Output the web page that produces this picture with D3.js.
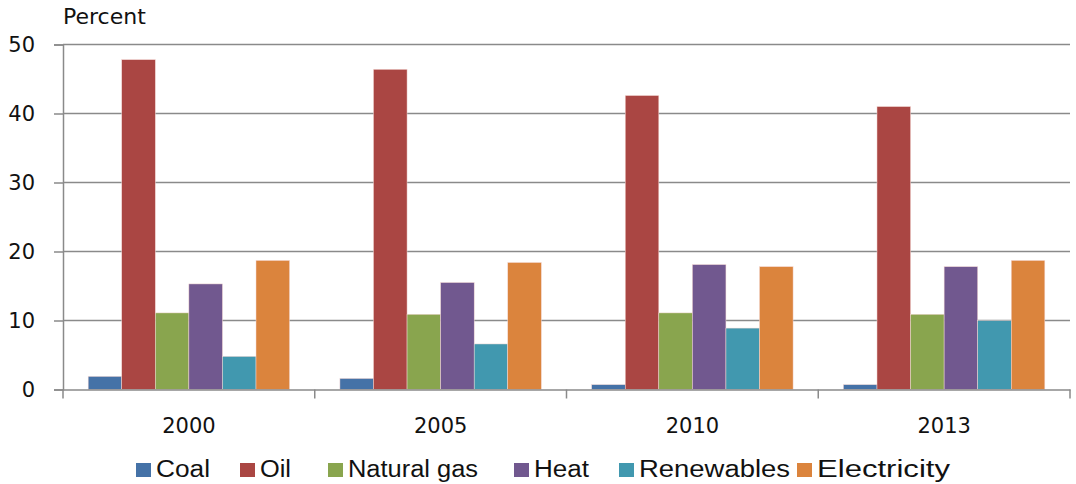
<!DOCTYPE html>
<html>
<head>
<meta charset="utf-8">
<script src="https://cdn.jsdelivr.net/npm/d3@7"></script>
<style>
  body { margin: 0; background: #fff; }
  svg { display: block; }
</style>
</head>
<body>
<div id="chart"></div>
<script>
const years = ['2000', '2005', '2010', '2013'];
const fuels = ['Coal', 'Oil', 'Natural gas', 'Heat', 'Renewables', 'Electricity'];
const colors = ['#4572A7', '#AA4643', '#89A54E', '#71588F', '#4198AF', '#DB843D'];
const coal = [1.9, 1.6, 0.7, 0.7];
const oil = [47.8, 46.4, 42.6, 41.0];
const gas = [11.1, 10.9, 11.1, 10.9];
const heat = [15.3, 15.5, 18.1, 17.8];
const renewables = [4.8, 6.6, 8.9, 10.0];
const electricity = [18.7, 18.4, 17.8, 18.7];
const yTicks = [0, 10, 20, 30, 40, 50];

// legend layout: swatch x and label width
const legendX = [136, 240, 328, 514, 619, 797];
const legendW = [54, 31, 130, 55, 151, 133];

const series = [coal, oil, gas, heat, renewables, electricity];

const width = 1076, height = 484;
const plotLeft = 63, plotRight = 1070, plotTop = 44.5, plotBottom = 389.5;
const axisFont = 'DejaVu Sans, Verdana, sans-serif';

const svg = d3.select('#chart').append('svg')
  .attr('width', width)
  .attr('height', height);

const x = d3.scaleBand().domain(years).range([plotLeft, plotRight]);
const inner = d3.scaleBand().domain(fuels)
  .range([0, x.bandwidth()])
  .paddingOuter(0.75);
const y = d3.scaleLinear().domain([0, 50]).range([plotBottom, plotTop]);

// gridlines
svg.append('g')
  .selectAll('line')
  .data(yTicks.filter(d => d > 0))
  .enter().append('line')
  .attr('x1', plotLeft).attr('x2', plotRight)
  .attr('y1', d => y(d)).attr('y2', d => y(d))
  .attr('stroke', '#8a8a8a')
  .attr('stroke-width', 1.5);

// bars
years.forEach((yr, i) => {
  const g = svg.append('g').attr('transform', `translate(${x(yr)},0)`);
  g.selectAll('rect')
    .data(fuels)
    .enter().append('rect')
    .attr('x', f => inner(f))
    .attr('width', inner.bandwidth())
    .attr('y', (f, j) => y(series[j][i]))
    .attr('height', (f, j) => plotBottom - y(series[j][i]))
    .attr('fill', (f, j) => colors[j])
    .attr('stroke', '#f4d8d4')
    .attr('stroke-width', 0.5);
});

// y axis
const yAxis = svg.append('g')
  .attr('transform', `translate(${plotLeft},0)`)
  .call(d3.axisLeft(y).tickValues(yTicks).tickSize(9).tickPadding(19));
yAxis.select('.domain').attr('stroke', '#8a8a8a').attr('stroke-width', 1.5);
yAxis.selectAll('.tick line').attr('stroke', '#8a8a8a').attr('stroke-width', 1.5);
yAxis.selectAll('.tick text')
  .attr('font-family', axisFont)
  .attr('font-size', 21)
  .attr('fill', '#111');

// x axis
const xAxis = svg.append('g')
  .attr('transform', `translate(0,${plotBottom})`)
  .call(d3.axisBottom(x).tickSize(0));
xAxis.select('.domain').attr('stroke', '#8a8a8a').attr('stroke-width', 1.5);
xAxis.selectAll('.tick text')
  .attr('y', 43.5)
  .attr('dy', null)
  .attr('font-family', axisFont)
  .attr('font-size', 21)
  .attr('fill', '#111');
xAxis.selectAll('.sep')
  .data(years.map(yr => x(yr)).concat([plotRight]))
  .enter().append('line')
  .attr('class', 'sep')
  .attr('x1', d => d).attr('x2', d => d)
  .attr('y1', 0).attr('y2', 9)
  .attr('stroke', '#8a8a8a')
  .attr('stroke-width', 1.5);

// axis title
svg.append('text')
  .attr('x', 63).attr('y', 24)
  .attr('font-family', axisFont)
  .attr('font-size', 22)
  .attr('fill', '#111')
  .text('Percent');

// legend
const legend = svg.append('g');
fuels.forEach((f, j) => {
  legend.append('rect')
    .attr('x', legendX[j]).attr('y', 463)
    .attr('width', 15).attr('height', 14)
    .attr('fill', colors[j]);
  legend.append('text')
    .attr('x', legendX[j] + 20).attr('y', 477)
    .attr('font-family', 'Liberation Sans, Arial, sans-serif')
    .attr('font-size', 23)
    .attr('fill', '#111')
    .attr('textLength', legendW[j])
    .attr('lengthAdjust', 'spacingAndGlyphs')
    .text(f);
});
</script>
</body>
</html>
